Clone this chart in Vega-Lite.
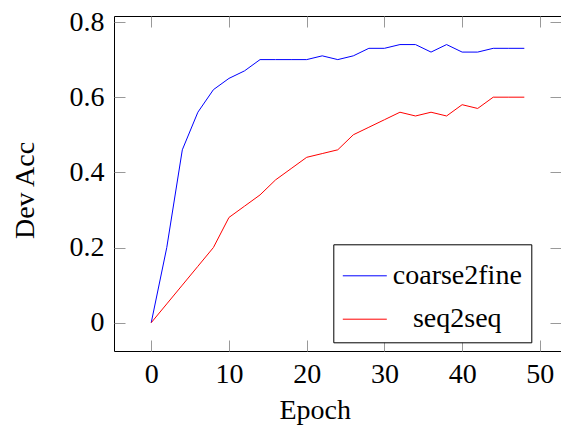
{
  "$schema": "https://vega.github.io/schema/vega-lite/v6.json",
  "autosize": "none",
  "padding": {"left": 114, "top": 16, "right": 0, "bottom": 74},
  "width": 447,
  "height": 335,
  "config": {
    "font": "Liberation Serif",
    "view": {"stroke": "#000000", "strokeWidth": 1},
    "axis": {"grid": false, "domain": false, "tickColor": "#999999", "tickWidth": 1, "tickSize": 11, "offset": -11,
             "labelFont": "Liberation Serif", "labelFontSize": 28, "labelColor": "#000000",
             "titleFont": "Liberation Serif", "titleFontSize": 28, "titleFontWeight": "normal", "titleColor": "#000000"},
    "legend": {"labelFont": "Liberation Serif", "labelLimit": 0}
  },
  "data": {"values": [
    {"epoch": 0, "model": "coarse2fine", "acc": 0}, {"epoch": 2, "model": "coarse2fine", "acc": 0.2},
    {"epoch": 4, "model": "coarse2fine", "acc": 0.46}, {"epoch": 6, "model": "coarse2fine", "acc": 0.56},
    {"epoch": 8, "model": "coarse2fine", "acc": 0.62}, {"epoch": 10, "model": "coarse2fine", "acc": 0.65},
    {"epoch": 12, "model": "coarse2fine", "acc": 0.67}, {"epoch": 14, "model": "coarse2fine", "acc": 0.70},
    {"epoch": 16, "model": "coarse2fine", "acc": 0.70}, {"epoch": 18, "model": "coarse2fine", "acc": 0.70},
    {"epoch": 20, "model": "coarse2fine", "acc": 0.70}, {"epoch": 22, "model": "coarse2fine", "acc": 0.71},
    {"epoch": 24, "model": "coarse2fine", "acc": 0.70}, {"epoch": 26, "model": "coarse2fine", "acc": 0.71},
    {"epoch": 28, "model": "coarse2fine", "acc": 0.73}, {"epoch": 30, "model": "coarse2fine", "acc": 0.73},
    {"epoch": 32, "model": "coarse2fine", "acc": 0.74}, {"epoch": 34, "model": "coarse2fine", "acc": 0.74},
    {"epoch": 36, "model": "coarse2fine", "acc": 0.72}, {"epoch": 38, "model": "coarse2fine", "acc": 0.74},
    {"epoch": 40, "model": "coarse2fine", "acc": 0.72}, {"epoch": 42, "model": "coarse2fine", "acc": 0.72},
    {"epoch": 44, "model": "coarse2fine", "acc": 0.73}, {"epoch": 46, "model": "coarse2fine", "acc": 0.73},
    {"epoch": 48, "model": "coarse2fine", "acc": 0.73},
    {"epoch": 0, "model": "seq2seq", "acc": 0}, {"epoch": 2, "model": "seq2seq", "acc": 0.05},
    {"epoch": 4, "model": "seq2seq", "acc": 0.10}, {"epoch": 6, "model": "seq2seq", "acc": 0.15},
    {"epoch": 8, "model": "seq2seq", "acc": 0.20}, {"epoch": 10, "model": "seq2seq", "acc": 0.28},
    {"epoch": 12, "model": "seq2seq", "acc": 0.31}, {"epoch": 14, "model": "seq2seq", "acc": 0.34},
    {"epoch": 16, "model": "seq2seq", "acc": 0.38}, {"epoch": 18, "model": "seq2seq", "acc": 0.41},
    {"epoch": 20, "model": "seq2seq", "acc": 0.44}, {"epoch": 22, "model": "seq2seq", "acc": 0.45},
    {"epoch": 24, "model": "seq2seq", "acc": 0.46}, {"epoch": 26, "model": "seq2seq", "acc": 0.50},
    {"epoch": 28, "model": "seq2seq", "acc": 0.52}, {"epoch": 30, "model": "seq2seq", "acc": 0.54},
    {"epoch": 32, "model": "seq2seq", "acc": 0.56}, {"epoch": 34, "model": "seq2seq", "acc": 0.55},
    {"epoch": 36, "model": "seq2seq", "acc": 0.56}, {"epoch": 38, "model": "seq2seq", "acc": 0.55},
    {"epoch": 40, "model": "seq2seq", "acc": 0.58}, {"epoch": 42, "model": "seq2seq", "acc": 0.57},
    {"epoch": 44, "model": "seq2seq", "acc": 0.60}, {"epoch": 46, "model": "seq2seq", "acc": 0.60},
    {"epoch": 48, "model": "seq2seq", "acc": 0.60}
  ]},
  "layer": [
    {
      "mark": {"type": "line", "strokeWidth": 1},
      "encoding": {
        "x": {"field": "epoch", "type": "quantitative",
              "scale": {"domain": [-4.79, 52.72], "nice": false, "zero": false},
              "axis": {"orient": "bottom", "values": [0, 10, 20, 30, 40, 50], "labelPadding": 9,
                       "title": "Epoch", "titleX": 200.7, "titleY": 78, "titleAlign": "center", "titleBaseline": "alphabetic"}},
        "y": {"field": "acc", "type": "quantitative",
              "scale": {"domain": [-0.0753, 0.816], "nice": false, "zero": false},
              "axis": {"orient": "left", "values": [0, 0.2, 0.4, 0.6, 0.8], "format": "~g", "labelPadding": 10,
                       "title": "Dev Acc", "titleX": -91.7, "titleY": 174, "titleAngle": -90, "titleAlign": "center", "titleBaseline": "alphabetic"}},
        "color": {"field": "model", "type": "nominal",
                  "scale": {"domain": ["coarse2fine", "seq2seq"], "range": ["#0000ff", "#ff0000"]},
                  "legend": {"orient": "none", "legendX": 219.3, "legendY": 228.3, "title": null,
                             "symbolType": "stroke", "symbolSize": 1936, "symbolStrokeWidth": 1,
                             "labelFont": "Liberation Serif", "labelFontSize": 28, "labelColor": "#000000", "labelLimit": 0,
                             "labelAlign": "center", "labelOffset": 70, "padding": 9, "rowPadding": 6.4,
                             "strokeColor": "#000000", "fillColor": "#ffffff"}}
      }
    },
    {
      "mark": {"type": "line", "strokeOpacity": 0},
      "encoding": {
        "x": {"field": "epoch", "type": "quantitative",
              "axis": {"orient": "top", "values": [0, 10, 20, 30, 40, 50], "labels": false, "title": null}},
        "y": {"field": "acc", "type": "quantitative",
              "axis": {"orient": "right", "values": [0, 0.2, 0.4, 0.6, 0.8], "labels": false, "title": null}},
        "detail": {"field": "model", "type": "nominal"}
      }
    }
  ],
  "resolve": {"axis": {"x": "independent", "y": "independent"}}
}
